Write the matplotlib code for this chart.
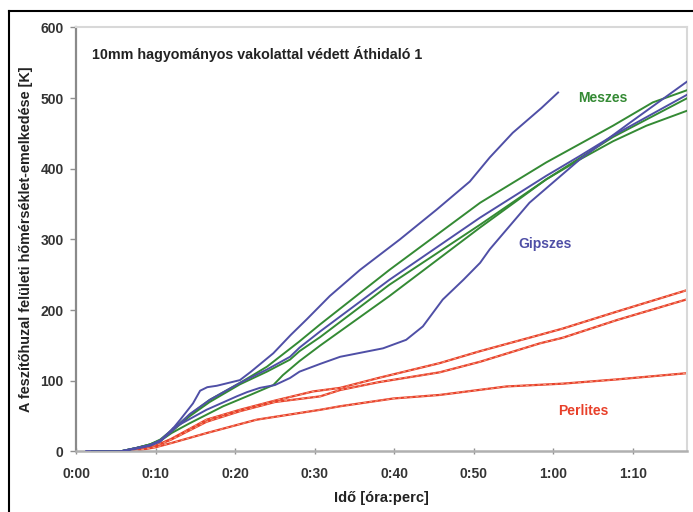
import matplotlib
matplotlib.use("Agg")
from matplotlib import pyplot as plt
from matplotlib.lines import Line2D

plt.rcParams['font.family'] = ['Liberation Sans', 'DejaVu Sans']

# time in minutes, temperature rise in K
b1_t = [1.3, 5.5, 7.6, 9.3, 10.6, 12, 13.1, 14.7, 15.6, 16.5, 17.7, 20.6, 22, 24.8, 27, 29, 31.9, 35.7, 40.7, 45.3, 49.5, 52, 54.9, 58.5, 60.6]
b1_k = [0, 0, 5, 9, 16, 30, 45, 68, 86, 91, 93, 101, 113, 139, 165, 187, 220, 257, 300, 342, 382, 416, 451, 486, 508]

b2_t = [1.3, 5.5, 7.6, 9.3, 10.6, 12, 14.3, 16.8, 20.6, 24, 26.9, 28.1, 30.7, 39.4, 50.8, 59.1, 63.3, 67.5, 77]
b2_k = [0, 0, 5, 9, 15, 28, 53, 73, 97, 116, 134, 147, 170, 243, 331, 390, 418, 447, 506]

b3_t = [1.3, 5.5, 7.6, 9.3, 10.6, 12.2, 16.4, 20.2, 21.5, 23.1, 25, 26.9, 28.1, 30.7, 33.2, 38.6, 41.5, 43.6, 46.1, 48.7, 50.8, 52, 57, 63.3, 69.6, 77]
b3_k = [0, 0, 4, 8, 14, 33, 59, 78, 84, 90, 94, 104, 113, 124, 134, 146, 158, 177, 215, 243, 267, 286, 352, 413, 465, 525]

g1_t = [2, 5.5, 7.6, 9.3, 10.6, 12, 14.3, 16.8, 20.6, 24, 28, 30.7, 39.4, 50.8, 59.1, 67.5, 72.5, 77]
g1_k = [0, 0, 5, 10, 17, 30, 52, 73, 97, 120, 155, 180, 257, 352, 409, 461, 494, 512]

g2_t = [2, 5.5, 7.6, 9.3, 10.6, 12, 14.3, 16.8, 20.6, 24, 26.9, 28.1, 30.7, 39.4, 50.8, 59.1, 67.5, 77]
g2_k = [0, 0, 5, 10, 16, 28, 50, 70, 95, 113, 130, 142, 162, 236, 321, 385, 445, 501]

g3_t = [2, 5.5, 7.6, 9.3, 10.6, 12, 14.3, 18.5, 21.9, 24.8, 26, 28.1, 30.7, 39.4, 50.8, 59.1, 63.3, 67.5, 71.7, 77]
g3_k = [0, 0, 5, 10, 15, 26, 40, 64, 80, 94, 108, 128, 150, 220, 317, 385, 413, 439, 461, 483]

r1_t = [6, 8, 10, 12, 16.4, 20.6, 25, 29.8, 33.2, 38, 45.7, 50.8, 58.3, 61.2, 68, 77]
r1_k = [0, 3, 8, 18, 45, 59, 72, 85, 90, 104, 125, 142, 165, 174, 198, 229]

r2_t = [6, 8, 10, 12, 16.4, 20.6, 25, 30.7, 33.2, 38, 45.7, 50.8, 58.3, 61.2, 68, 77]
r2_k = [0, 3, 8, 17, 42, 57, 70, 78, 87, 98, 112, 127, 153, 161, 186, 216]

r3_t = [6, 8, 10, 12, 16.4, 22.7, 30.7, 33.2, 39.9, 45.7, 54.1, 61.2, 68, 77]
r3_k = [0, 2, 6, 12, 26, 45, 59, 64, 75, 80, 92, 96, 102, 111]

x_ticks = [0, 10, 20, 30, 40, 50, 60, 70]
x_labels = ["0:00", "0:10", "0:20", "0:30", "0:40", "0:50", "1:00", "1:10"]
y_ticks = [0, 100, 200, 300, 400, 500, 600]

BLUE = '#4f4fa6'
GREEN = '#348a34'
RED = '#e8402a'

fig = plt.figure(figsize=(6.93, 5.12), dpi=100)
ax = fig.add_axes([0.1097, 0.1182, 0.8816, 0.8281])

for t, k in [(r1_t, r1_k), (r2_t, r2_k), (r3_t, r3_k)]:
    ax.plot(t, k, color=RED, lw=1.6, zorder=2)
    ax.plot(t, k, color='#f4a080', lw=0.7, dashes=(3, 3), zorder=2)

for t, k in [(g1_t, g1_k), (g2_t, g2_k), (g3_t, g3_k)]:
    ax.plot(t, k, color=GREEN, lw=1.4, zorder=3)

for t, k in [(b1_t, b1_k), (b2_t, b2_k), (b3_t, b3_k)]:
    ax.plot(t, k, color=BLUE, lw=1.4, zorder=4)

ax.set_xlim(0, 76.8)
ax.set_ylim(0, 600)
ax.set_xticks(x_ticks)
ax.set_xticklabels(x_labels)
ax.set_yticks(y_ticks)

for lab in ax.get_xticklabels() + ax.get_yticklabels():
    lab.set_fontweight('bold')
    lab.set_fontsize(10)
    lab.set_color('#333333')

ax.tick_params(axis='x', direction='inout', length=5, width=1, color='#909090', pad=9)
ax.tick_params(axis='y', direction='out', length=4, width=1, color='#909090', pad=5)

ax.spines['left'].set_color('#8a8a8a')
ax.spines['left'].set_linewidth(1.6)
ax.spines['bottom'].set_color('#b0b0b0')
ax.spines['bottom'].set_linewidth(1.8)
ax.spines['top'].set_color('#d8d8d8')
ax.spines['top'].set_linewidth(1.5)
ax.spines['right'].set_color('#d8d8d8')
ax.spines['right'].set_linewidth(1.5)

ax.set_xlabel("Idő [óra:perc]", fontsize=10.5, fontweight='bold', color='#222222', labelpad=7)
ax.set_ylabel("A feszítőhuzal felületi hőmérséklet-emelkedése [K]", fontsize=10.4,
              fontweight='bold', color='#222222', labelpad=5)

ax.text(2, 562, "10mm hagyományos vakolattal védett Áthidaló 1", fontsize=10.3,
        fontweight='bold', color='#222222', va='center', ha='left')
ax.text(66.2, 500, "Meszes", fontsize=10, fontweight='bold', color=GREEN, ha='center', va='center')
ax.text(58.9, 293, "Gipszes", fontsize=10, fontweight='bold', color=BLUE, ha='center', va='center')
ax.text(63.8, 57, "Perlites", fontsize=10, fontweight='bold', color=RED, ha='center', va='center')

# outer frame (only top and left edges visible)
fig.add_artist(Line2D([9 / 693, 1], [1 - 11 / 512, 1 - 11 / 512], color='black', lw=1.5))
fig.add_artist(Line2D([9 / 693, 9 / 693], [0, 1 - 11 / 512], color='black', lw=1.5))

fig.savefig("out.png", dpi=100)
